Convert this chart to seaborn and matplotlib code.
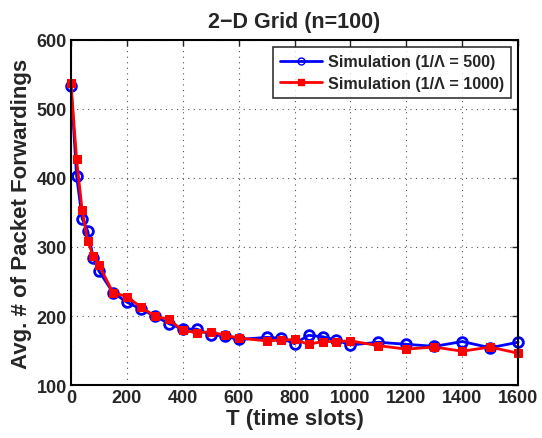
import matplotlib
matplotlib.use("Agg")
import matplotlib.pyplot as plt
import seaborn as sns
import pandas as pd
from matplotlib.lines import Line2D

T = [0, 20, 40, 60, 80, 100, 150, 200, 250, 300, 350, 400, 450, 500, 550, 600,
     700, 750, 800, 850, 900, 950, 1000, 1100, 1200, 1300, 1400, 1500, 1600]
sim500 = [534, 403, 341, 323, 284, 265, 234, 220, 210, 200, 189, 181, 181, 173, 171, 166,
          169, 168, 160, 172, 170, 165, 158, 162, 159, 156, 163, 154, 162]
sim1000 = [537, 427, 353, 308, 287, 274, 234, 228, 213, 200, 195, 179, 176, 177, 172, 168,
           164, 165, 166, 159, 163, 163, 164, 157, 152, 155, 149, 155, 146]
labels = ["Simulation (1/\u039b = 500)", "Simulation (1/\u039b = 1000)"]
xticks = [0, 200, 400, 600, 800, 1000, 1200, 1400, 1600]
yticks = [100, 200, 300, 400, 500, 600]

sns.set_style("white")
plt.rcParams['font.family'] = ['Liberation Sans', 'DejaVu Sans']
plt.rcParams['font.weight'] = 'bold'

df = pd.DataFrame({
    "T": T * 2,
    "val": sim500 + sim1000,
    "series": [labels[0]] * len(T) + [labels[1]] * len(T),
})

fig = plt.figure(figsize=(5.42, 4.39), dpi=100)
ax = fig.add_axes([0.131, 0.1207, 0.825, 0.786])

sns.lineplot(data=df, x="T", y="val", hue="series", style="series",
             palette={labels[0]: "#0000ff", labels[1]: "#ff0000"},
             markers={labels[0]: "o", labels[1]: "s"},
             dashes=False, linewidth=2, ax=ax, legend=False)
lines = ax.get_lines()
lines[0].set_markerfacecolor("none")
lines[0].set_markeredgecolor("#0000ff")
lines[0].set_markersize(7)
lines[0].set_markeredgewidth(2)
lines[1].set_markerfacecolor("#ff0000")
lines[1].set_markeredgecolor("#ff0000")
lines[1].set_markersize(6)
for l in lines:
    l.set_clip_on(False)

ax.set_xlim(0, 1600)
ax.set_ylim(100, 600)
ax.set_xticks(xticks)
ax.set_yticks(yticks)
ax.tick_params(direction="in", top=True, right=True, length=4, width=1,
               labelsize=13, pad=3)
for t in ax.get_xticklabels() + ax.get_yticklabels():
    t.set_fontweight("bold")
ax.grid(True, linestyle=(0, (1, 4)), color="#555555", linewidth=0.8)
for s in ax.spines.values():
    s.set_linewidth(1.5)
    s.set_color("black")

ax.set_xlabel("T (time slots)", fontsize=16, fontweight="bold", labelpad=1)
ax.set_ylabel("Avg. # of Packet Forwardings", fontsize=16, fontweight="bold", labelpad=3)
ax.set_title("2\u2212D Grid (n=100)", fontsize=15.5, fontweight="bold", pad=9)

handles = [
    Line2D([], [], color="#0000ff", marker="o", markerfacecolor="none",
           markeredgecolor="#0000ff", markersize=5, linewidth=2),
    Line2D([], [], color="#ff0000", marker="s", markersize=4, linewidth=2),
]
leg = ax.legend(handles, labels, loc="upper right",
                prop={"weight": "bold", "size": 11.6},
                handlelength=2.6, frameon=True, fancybox=False,
                edgecolor="black", borderpad=0.45, labelspacing=0.4,
                handletextpad=0.35, borderaxespad=0.45)
leg.get_frame().set_linewidth(1.2)

fig.savefig("out.png", dpi=100)
